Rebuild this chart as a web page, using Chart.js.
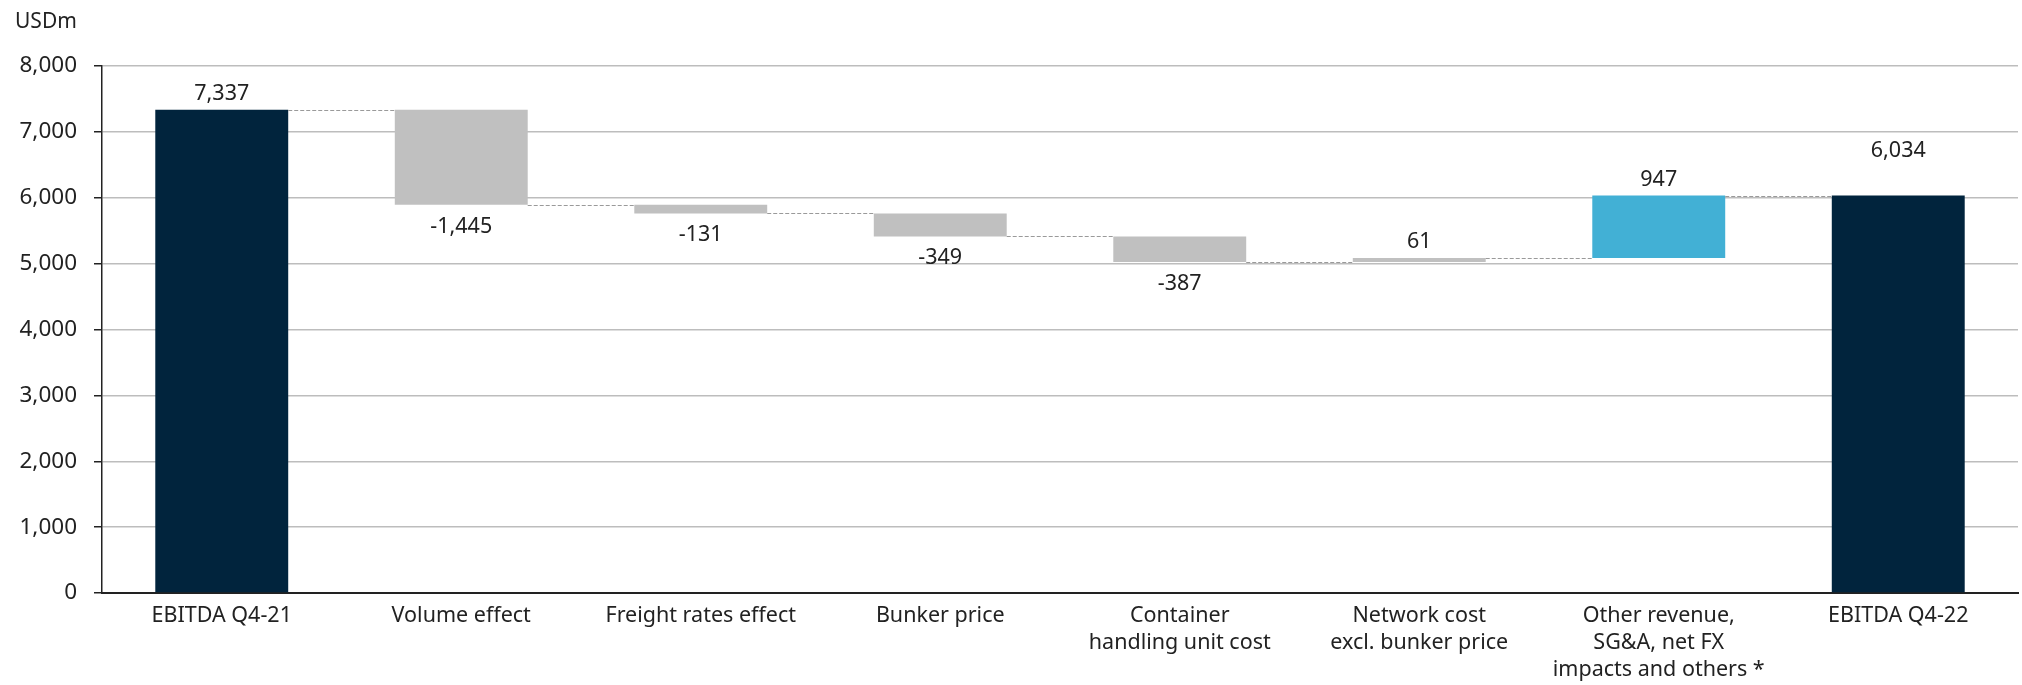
<!DOCTYPE html>
<html>
<head>
<meta charset="utf-8">
<script src="https://cdn.jsdelivr.net/npm/chart.js@4.4.0/dist/chart.umd.min.js"></script>
<style>
  html, body { margin: 0; padding: 0; background: #fff; }
  #wrap { width: 2022px; height: 685px; position: relative; }
</style>
</head>
<body>
<div id="wrap"><canvas id="chart" width="2022" height="685"></canvas></div>
<script>
// data (USDm)
const categories = [
  ['EBITDA Q4-21'],
  ['Volume effect'],
  ['Freight rates effect'],
  ['Bunker price'],
  ['Container', 'handling unit cost'],
  ['Network cost', 'excl. bunker price'],
  ['Other revenue,', 'SG&A, net FX', 'impacts and others *'],
  ['EBITDA Q4-22']
];
const changes = [7337, -1445, -131, -349, -387, 61, 947, 6034];
const isTotal = [true, false, false, false, false, false, false, true];
const yTicks = [0, 1000, 2000, 3000, 4000, 5000, 6000, 7000, 8000];

// colours / styling
const barColors = ['#01243d', '#c0c0c0', '#c0c0c0', '#c0c0c0', '#c0c0c0', '#c0c0c0', '#42b0d5', '#01243d'];
const labelLift = [0, 0, 0, 0, 0, 0, 0, 29]; // extra px above bar for the closing total label
const textColor = '#222';
const fontFamily = '"Noto Sans", sans-serif';

// running totals -> floating bars
let running = 0;
const ranges = [];
const levels = [];
changes.forEach((v, i) => {
  if (isTotal[i]) {
    ranges.push([0, v]);
    running = v;
  } else {
    ranges.push([running, running + v]);
    running += v;
  }
  levels.push(running);
});

const fmt = (v) => v.toLocaleString('en-US');

const unitLabel = {
  id: 'unitLabel',
  afterDraw(chart) {
    const ctx = chart.ctx;
    ctx.save();
    ctx.font = '21px ' + fontFamily;
    ctx.fillStyle = textColor;
    ctx.textAlign = 'left';
    ctx.textBaseline = 'alphabetic';
    ctx.fillText('USDm', 15, 28);
    ctx.restore();
  }
};

const connectors = {
  id: 'connectors',
  afterDatasetsDraw(chart) {
    const ctx = chart.ctx;
    const meta = chart.getDatasetMeta(0);
    const y = chart.scales.y;
    ctx.save();
    ctx.strokeStyle = '#9a9a9a';
    ctx.lineWidth = 1.2;
    ctx.setLineDash([4, 2]);
    for (let i = 0; i < meta.data.length - 1; i++) {
      const a = meta.data[i], b = meta.data[i + 1];
      const py = Math.round(y.getPixelForValue(levels[i])) + 0.5;
      ctx.beginPath();
      ctx.moveTo(a.x + a.width / 2, py);
      ctx.lineTo(b.x - b.width / 2, py);
      ctx.stroke();
    }
    ctx.restore();
  }
};

const valueLabels = {
  id: 'valueLabels',
  afterDatasetsDraw(chart) {
    const ctx = chart.ctx;
    const meta = chart.getDatasetMeta(0);
    ctx.save();
    ctx.font = '21.5px ' + fontFamily;
    ctx.fillStyle = textColor;
    ctx.textAlign = 'center';
    ctx.textBaseline = 'alphabetic';
    meta.data.forEach((bar, i) => {
      const top = Math.min(bar.y, bar.base);
      const bottom = Math.max(bar.y, bar.base);
      if (changes[i] >= 0) {
        ctx.fillText(fmt(changes[i]), bar.x, top - 10 - labelLift[i]);
      } else {
        ctx.fillText(fmt(changes[i]), bar.x, bottom + 28);
      }
    });
    ctx.restore();
  }
};

new Chart(document.getElementById('chart'), {
  type: 'bar',
  data: {
    labels: categories,
    datasets: [{
      data: ranges,
      backgroundColor: barColors,
      borderWidth: 0,
      barPercentage: 1,
      categoryPercentage: 0.555
    }]
  },
  options: {
    responsive: false,
    animation: false,
    layout: { padding: { top: 66, right: 4, left: 0, bottom: 0 } },
    plugins: {
      legend: { display: false },
      tooltip: { enabled: false },
      title: { display: false }
    },
    scales: {
      x: {
        grid: { display: false, drawTicks: false },
        border: { display: true, color: '#222', width: 2 },
        ticks: {
          color: textColor,
          font: { family: fontFamily, size: 21.5, lineHeight: 1.26 },
          padding: 9,
          maxRotation: 0,
          autoSkip: false
        },
        afterFit(scale) { scale.height = 92; }
      },
      y: {
        min: 0,
        max: 8000,
        afterBuildTicks(scale) { scale.ticks = yTicks.map(v => ({ value: v })); },
        grid: { color: '#bdbdbd', lineWidth: 1.5, tickLength: 8, tickColor: '#222' },
        border: { display: true, color: '#222', width: 1.5 },
        ticks: {
          color: textColor,
          font: { family: fontFamily, size: 22.5 },
          padding: 17,
          callback: (v) => fmt(v)
        },
        afterFit(scale) { scale.width = 102; }
      }
    }
  },
  plugins: [unitLabel, connectors, valueLabels]
});
</script>
</body>
</html>
